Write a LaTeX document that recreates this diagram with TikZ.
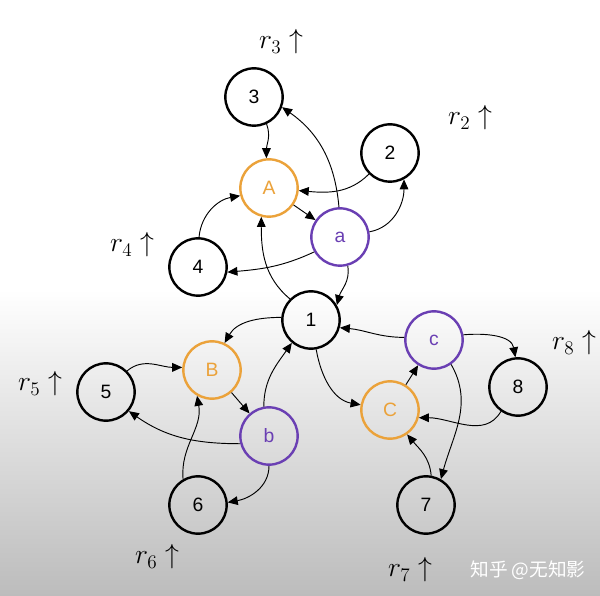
\documentclass[tikz,border=0pt]{standalone}
\usepackage{fontspec}
\setmainfont{Liberation Sans}
\newfontfamily\cjk{Noto Sans CJK SC}
\usepackage{tikz}
\usetikzlibrary{arrows.meta,positioning,calc}
\definecolor{MoveOrange}{HTML}{EBA23A}
\definecolor{MovePurple}{HTML}{6A3FB3}
\definecolor{BackGrey}{HTML}{BCBCBC}

\tikzset{
  player/.style={circle, draw=black, line width=1.8pt, minimum size=43pt, inner sep=0pt, font=\fontsize{14.5}{14.5}\selectfont, fill=white, fill opacity=0, text opacity=1},
  target/.style={player, draw=MoveOrange, text=MoveOrange},
  agent/.style={player, draw=MovePurple, text=MovePurple},
  flow/.style={-{Triangle[length=7.5pt,width=6.5pt]}, line width=0.7pt},
  gain/.style={font=\fontsize{20}{20}\selectfont}
}

\begin{document}
\begin{tikzpicture}[x=0.75pt, y=0.75pt]
% Background: white top, grey gradient below
\useasboundingbox (0,0) rectangle (600,596);
\fill[white] (0,306) rectangle (600,596);
\shade[top color=white, bottom color=BackGrey] (0,0) rectangle (600,306.5);

% Players
\node[player] (n3) at (254,499) {3};
\node[player] (n2) at (390,443) {2};
\node[target] (A) at (269,408) {A};
\node[agent]  (a) at (340,359) {a};
\node[player] (n4) at (198,329) {4};
\node[player] (n1) at (311,276) {1};
\node[agent]  (c) at (434,256) {c};
\node[player] (n8) at (518,209) {8};
\node[target] (C) at (390,186) {C};
\node[target] (B) at (212,226) {B};
\node[player] (n5) at (106,204) {5};
\node[agent]  (b) at (269,160) {b};
\node[player] (n6) at (198,91) {6};
\node[player] (n7) at (426,91) {7};

% Gains
\node[gain] (g3) at (281,554) {$r_3\uparrow$};
\node[gain] (g2) at (470,478) {$r_2\uparrow$};
\node[gain] (g4) at (132,351) {$r_4\uparrow$};
\node[gain] (g5) at (40,212) {$r_5\uparrow$};
\node[gain] (g6) at (157,39) {$r_6\uparrow$};
\node[gain] (g7) at (410,26) {$r_7\uparrow$};
\node[gain] (g8) at (574,253) {$r_8\uparrow$};

% Top group
\draw[flow] (n3.-65) to[out=-70, in=90] (A.95);
\draw[flow] (a.92) to[out=95, in=-35] (n3.-20);
\draw[flow] (n2.-135) to[out=-135, in=-5] (A.-5);
\draw[flow] (a.10) to[out=10, in=-90] (n2.-62);
\draw[flow] (A) -- (a);
\draw[flow] (n4.88) to[out=85, in=190] (A.195);
\draw[flow] (a.-150) to[out=-155, in=5] (n4.-10);
\draw[flow] (n1.135) to[out=140, in=-90] (A.-105);
\draw[flow] (a.-75) to[out=-80, in=75] (n1.30);

% Left group
\draw[flow] (n1.175) to[out=180, in=60] (B.65);
\draw[flow] (n5.45) to[out=40, in=180] (B.175);
\draw[flow] (B) -- (b);
\draw[flow] (b.-165) to[out=180, in=-35] (n5.-40);
\draw[flow] (n6.120) to[out=95, in=-80] (B.-120);
\draw[flow] (b.100) to[out=90, in=-125] (n1.-130);
\draw[flow] (b.-90) to[out=-90, in=10] (n6.5);

% Right group
\draw[flow] (c.175) to[out=180, in=-5] (n1.-15);
\draw[flow] (n1.-80) to[out=-80, in=170] (C.170);
\draw[flow] (C) -- (c);
\draw[flow] (c.10) to[out=5, in=100] (n8.95);
\draw[flow] (c.-55) to[out=-60, in=75] (n7.60);
\draw[flow] (n8.-125) to[out=-120, in=0] (C.-15);
\draw[flow] (n7.80) to[out=95, in=-50] (C.-55);

% Watermark
\node[text=white, font=\cjk\fontsize{14}{14}\selectfont] (mark) at (528,26) {知乎 @无知影};
\end{tikzpicture}
\end{document}
